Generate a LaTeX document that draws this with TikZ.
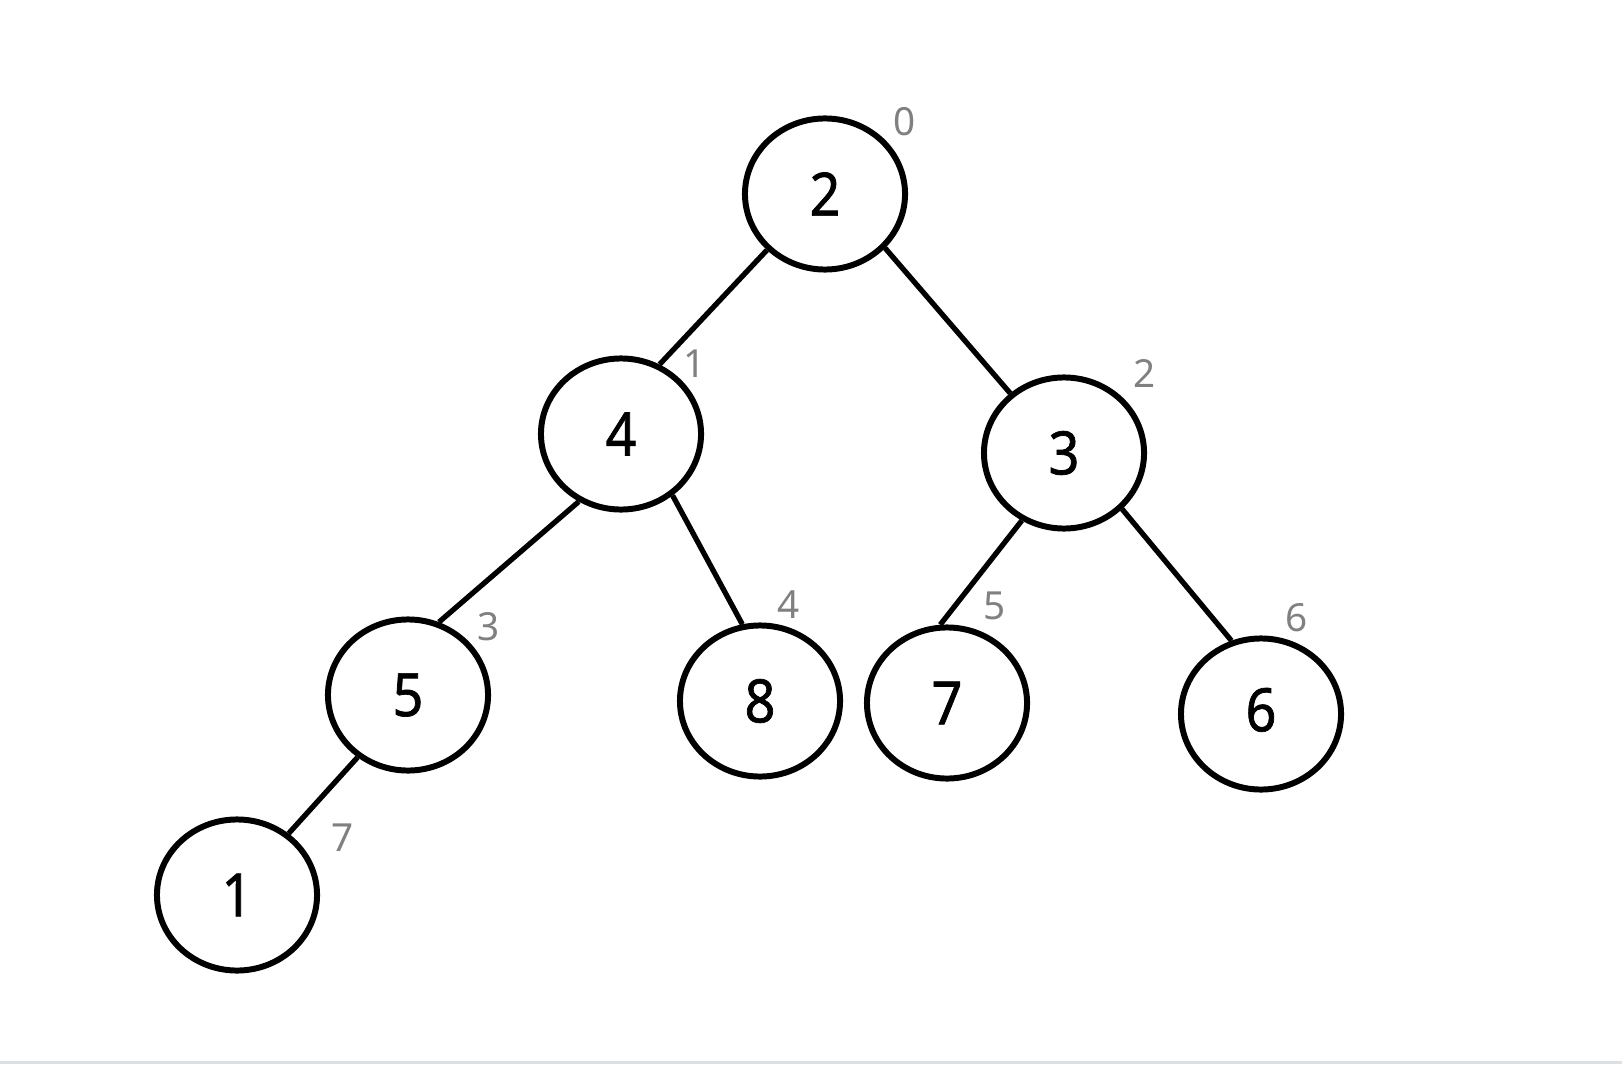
\documentclass[tikz,border=0pt]{standalone}
\usepackage{fontspec}
\setmainfont{Noto Sans}
\newfontfamily\keyfont{Noto Sans}[FakeBold=1.2,FakeStretch=0.9]
\usetikzlibrary{shapes.geometric,positioning}
\definecolor{indexGray}{RGB}{128,128,128}
\definecolor{edgeLine}{RGB}{220,223,228}

\begin{document}
\begin{tikzpicture}[x=0.01cm,y=-0.01cm,auto]

    \tikzstyle{heapNode}=[ellipse, draw=black, line width=1.7pt, minimum width=1.6cm, minimum height=1.51cm, inner sep=0pt, font=\keyfont\fontsize{17}{17}\selectfont]
    \tikzstyle{indexLabel}=[text=indexGray, inner sep=0pt, font=\fontsize{11}{11}\selectfont]
    \tikzstyle{link}=[-, line width=1.5pt, draw=black]

    % Page size
    \useasboundingbox (0,0) rectangle (1622,1064);
    \fill[edgeLine] (0,1061) rectangle (1622,1064);

    % Heap nodes
    \node at (825,194)  [heapNode] (n2) {\raisebox{-1.5pt}{2}};
    \node at (621,434)  [heapNode] (n4) {\raisebox{-1.5pt}{4}};
    \node at (1064,453) [heapNode] (n3) {3};
    \node at (408,695)  [heapNode] (n5) {\raisebox{-2pt}{5}};
    \node at (760,701)  [heapNode] (n8) {\raisebox{-1.5pt}{8}};
    \node at (947,703)  [heapNode] (n7) {7};
    \node at (1261,714) [heapNode] (n6) {\raisebox{2.5pt}{6}};
    \node at (237,895)  [heapNode] (n1) {1};

    % Tree edges
    \foreach \from/\to in {n2.224/n4.61, n2.318/n3.132, n4.238/n5.67, n4.310/n8.103,
                           n3.238/n7.95, n3.316/n6.112, n5.231/n1.50}
        \draw [link] (\from) -- (\to);

    % Array indices
    \node at (905,122)  [indexLabel] (i0) {0};
    \node at (695,364)  [indexLabel] (i1) {1};
    \node at (1145,373) [indexLabel] (i2) {2};
    \node at (489,627)  [indexLabel] (i3) {3};
    \node at (789,605)  [indexLabel] (i4) {4};
    \node at (995,606)  [indexLabel] (i5) {5};
    \node at (1297,618) [indexLabel] (i6) {6};
    \node at (343,838)  [indexLabel] (i7) {7};

\end{tikzpicture}
\end{document}
